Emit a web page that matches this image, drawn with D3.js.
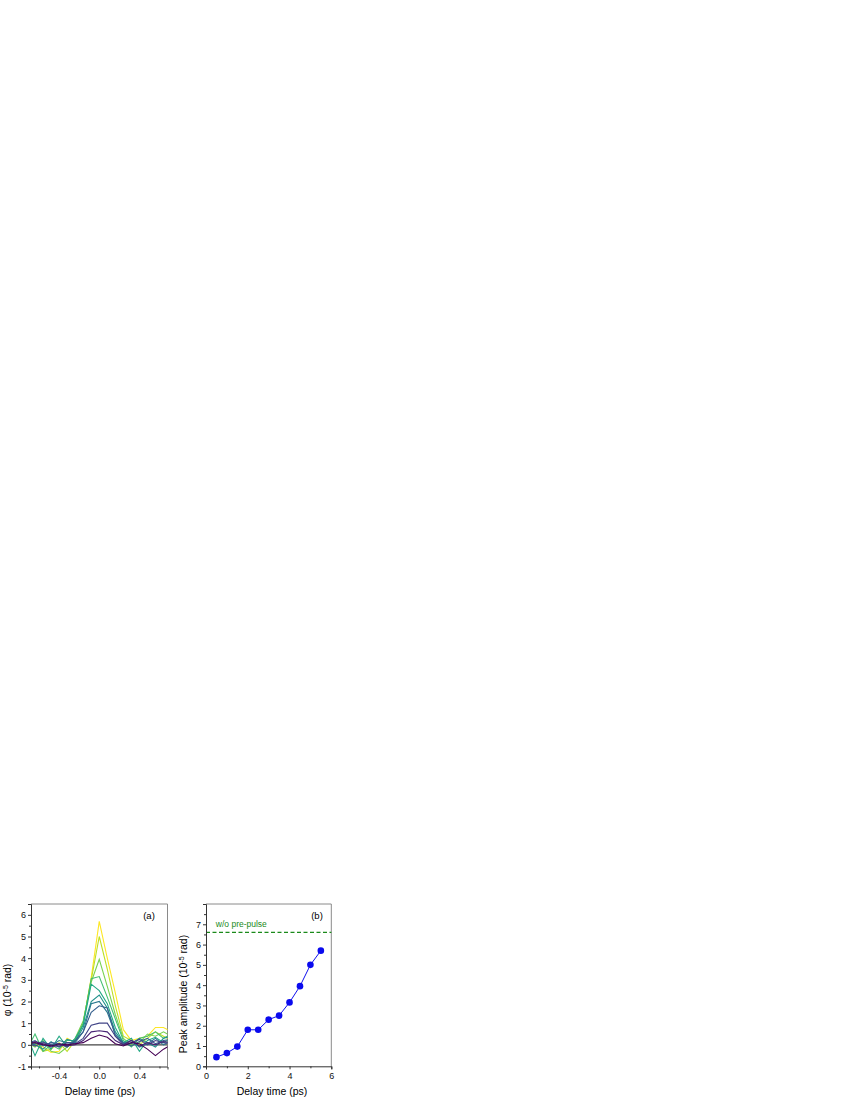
<!DOCTYPE html>
<html><head><meta charset="utf-8">
<script src="https://cdn.jsdelivr.net/npm/d3@7"></script>
<style>body{margin:0;background:#fff;} svg{display:block;} text{font-family:"Liberation Sans",Arial,sans-serif;}</style>
</head><body>
<svg id="c" width="850" height="1100"></svg>
<script>
// ---------- DATA ----------
// Panel (a): delay times (ps)
const delayA = [-0.72,-0.64,-0.56,-0.48,-0.40,-0.32,-0.24,-0.16,-0.08,0.00,0.08,0.16,0.24,0.32,0.40,0.48,0.56,0.64,0.72];
// phase traces (10^-5 rad), ordered from smallest to largest peak
const trace0  = [0.05,0.10,0.00,-0.05,0.05,0.00,0.05,0.10,0.30,0.45,0.35,0.05,-0.05,0.10,0.05,-0.20,-0.50,-0.20,0.00];
const trace1  = [0.00,0.15,0.05,-0.10,0.00,-0.05,0.00,0.20,0.60,0.65,0.60,0.20,0.00,0.20,-0.05,0.10,0.00,0.15,0.10];
const trace2  = [0.10,-0.05,0.10,0.00,-0.10,0.10,0.05,0.30,0.90,1.00,1.00,0.40,0.00,0.10,0.25,0.00,0.20,0.10,0.05];
const trace3  = [0.05,0.20,-0.05,0.10,0.05,-0.10,0.20,0.60,1.50,1.80,1.70,0.40,0.10,-0.05,0.15,0.30,0.05,0.20,0.25];
const trace4  = [-0.10,0.05,0.15,-0.05,0.20,0.10,0.10,0.60,1.90,2.00,1.50,0.50,0.05,0.20,-0.10,0.05,0.30,0.00,0.20];
const trace5  = [0.20,0.00,-0.20,0.15,-0.10,0.25,0.15,0.80,2.00,2.30,1.70,0.60,0.10,0.05,0.30,0.10,-0.10,0.30,0.40];
const trace6  = [0.40,-0.50,0.30,-0.20,0.40,-0.10,0.30,0.90,2.80,2.50,1.90,0.80,0.10,0.30,-0.30,0.20,0.35,0.10,0.30];
const trace7  = [-0.20,0.50,-0.30,0.00,-0.20,0.20,0.20,1.00,3.05,3.15,2.20,1.20,0.20,-0.10,0.30,0.40,0.60,0.30,0.50];
const trace8  = [0.10,-0.10,0.20,-0.30,-0.40,-0.10,0.30,1.10,2.90,3.95,2.70,1.40,0.30,0.00,0.10,0.50,0.40,0.60,0.40];
const trace9  = [0.00,0.10,-0.30,-0.20,0.10,-0.30,0.20,1.00,3.00,5.00,3.50,1.80,0.40,0.20,0.00,0.30,0.60,0.40,0.20];
const trace10 = [0.10,0.00,-0.10,-0.35,-0.30,0.30,0.10,1.00,3.10,5.70,4.00,2.40,0.70,0.20,0.30,0.40,0.80,0.80,0.60];
const tracesA = [trace0,trace1,trace2,trace3,trace4,trace5,trace6,trace7,trace8,trace9,trace10];

// Panel (b): peak amplitude vs pre-pulse delay
const delayB = [0.5,1.0,1.5,2.0,2.5,3.0,3.5,4.0,4.5,5.0,5.5];
const peakB  = [0.45,0.65,0.97,1.80,1.80,2.30,2.50,3.15,3.95,5.00,5.70];
const noPrePulse = 6.6;

// tick values / labels
const aYMajor = [-1,0,1,2,3,4,5,6];
const aYMinor = [-0.5,0.5,1.5,2.5,3.5,4.5,5.5,6.5];
const aXMajor = [-0.4,0.0,0.4];
const aXMinor = [-0.6,-0.2,0.2,0.6];
const bYMajor = [0,1,2,3,4,5,6,7];
const bYMinor = [0.5,1.5,2.5,3.5,4.5,5.5,6.5,7.5];
const bXMajor = [0,2,4,6];
const bXMinor = [1,3,5];

// ---------- DRAW ----------
const svg = d3.select("#c");
const axisCol = "#333";
const frameCol = "#8a8a8a";
const hyph = f => v => f(v).replace("\u2212","-");

function frame(x, y) {
  const [x0,x1] = x.range(), [y0,y1] = y.range();
  svg.append("line").attr("x1",x0).attr("x2",x1).attr("y1",y1).attr("y2",y1).attr("stroke",frameCol).attr("stroke-width",1);
  svg.append("line").attr("x1",x1).attr("x2",x1).attr("y1",y0).attr("y2",y1).attr("stroke",frameCol).attr("stroke-width",1);
}
function axes(x, y, xMaj, xMin, yMaj, yMin, xFmt, yFmt) {
  svg.append("g").attr("transform",`translate(0,${y.range()[0]})`)
    .call(d3.axisBottom(x).tickValues(xMaj).tickSize(3).tickPadding(3).tickFormat(xFmt));
  svg.append("g").attr("transform",`translate(0,${y.range()[0]})`)
    .call(d3.axisBottom(x).tickValues(xMin).tickSize(2).tickFormat(""))
    .call(g=>g.select(".domain").remove());
  svg.append("g").attr("transform",`translate(${x.range()[0]},0)`)
    .call(d3.axisLeft(y).tickValues(yMaj).tickSize(3).tickPadding(2).tickFormat(yFmt));
  svg.append("g").attr("transform",`translate(${x.range()[0]},0)`)
    .call(d3.axisLeft(y).tickValues(yMin).tickSize(2).tickFormat(""))
    .call(g=>g.select(".domain").remove());
  svg.selectAll(".domain").attr("stroke",axisCol);
  svg.selectAll(".tick line").attr("stroke",axisCol);
  svg.selectAll(".tick text").attr("fill","#111").style("font-size","9px").style("font-family","'Liberation Sans',Arial,sans-serif");
}

// ----- Panel (a)
const xa = d3.scaleLinear().domain([-0.68,0.68]).range([31,167.5]);
const ya = d3.scaleLinear().domain([-1,6.5]).range([1066.5,904]);
svg.append("clipPath").attr("id","clipA").append("rect")
  .attr("x",31).attr("y",904).attr("width",136.5).attr("height",162.5);
frame(xa, ya);
const color = i => d3.interpolateViridis(i/(tracesA.length-1));
const lineA = d3.line().x((d,i)=>xa(delayA[i])).y(d=>ya(d));
const gA = svg.append("g").attr("clip-path","url(#clipA)");
gA.append("line").attr("x1",xa(-0.68)).attr("x2",xa(0.68)).attr("y1",ya(0)).attr("y2",ya(0))
  .attr("stroke","#444").attr("stroke-width",1.3);
for (let i = tracesA.length-1; i >= 0; i--) {
  gA.append("path").datum(tracesA[i]).attr("d",lineA).attr("fill","none")
    .attr("stroke",color(i)).attr("stroke-width",1.1).attr("stroke-linejoin","miter");
}
axes(xa, ya, aXMajor, aXMinor, aYMajor, aYMinor, hyph(d3.format(".1f")), hyph(d3.format("d")));
svg.append("text").attr("x",149).attr("y",919).attr("text-anchor","middle").style("font-size","9.5px").text("(a)");
svg.append("text").attr("x",100).attr("y",1095).attr("text-anchor","middle").style("font-size","10.5px").text("Delay time (ps)");
const la = svg.append("text").attr("transform","translate(11,990) rotate(-90)").attr("text-anchor","middle").style("font-size","10.5px");
la.append("tspan").text("φ (10");
la.append("tspan").attr("dy",-3.5).style("font-size","7px").text("-5");
la.append("tspan").attr("dy",3.5).text(" rad)");

// ----- Panel (b)
const xb = d3.scaleLinear().domain([0,6]).range([206,331.3]);
const yb = d3.scaleLinear().domain([0,8]).range([1066.3,904]);
frame(xb, yb);
svg.append("line").attr("x1",xb(0)).attr("x2",xb(6)).attr("y1",yb(noPrePulse)).attr("y2",yb(noPrePulse))
  .attr("stroke","#1a8a1a").attr("stroke-width",1.1).attr("stroke-dasharray","4,2.5");
svg.append("text").attr("x",xb(0.47)).attr("y",yb(6.85)).attr("fill","#1a8a1a").style("font-size","8.5px").text("w/o pre-pulse");
const lineB = d3.line().x((d,i)=>xb(delayB[i])).y(d=>yb(d));
svg.append("path").datum(peakB).attr("d",lineB).attr("fill","none").attr("stroke","#1010ee").attr("stroke-width",1);
svg.selectAll("circle.pt").data(peakB).enter().append("circle").attr("class","pt")
  .attr("cx",(d,i)=>xb(delayB[i])).attr("cy",d=>yb(d)).attr("r",3.3).attr("fill","#0a0aee");
axes(xb, yb, bXMajor, bXMinor, bYMajor, bYMinor, d3.format("d"), d3.format("d"));
svg.append("text").attr("x",317).attr("y",919).attr("text-anchor","middle").style("font-size","9.5px").text("(b)");
svg.append("text").attr("x",272).attr("y",1095).attr("text-anchor","middle").style("font-size","10.5px").text("Delay time (ps)");
const lb = svg.append("text").attr("transform","translate(187,994) rotate(-90)").attr("text-anchor","middle").style("font-size","10.5px");
lb.append("tspan").text("Peak amplitude (10");
lb.append("tspan").attr("dy",-3.5).style("font-size","7px").text("-5");
lb.append("tspan").attr("dy",3.5).text(" rad)");
</script>
</body></html>
